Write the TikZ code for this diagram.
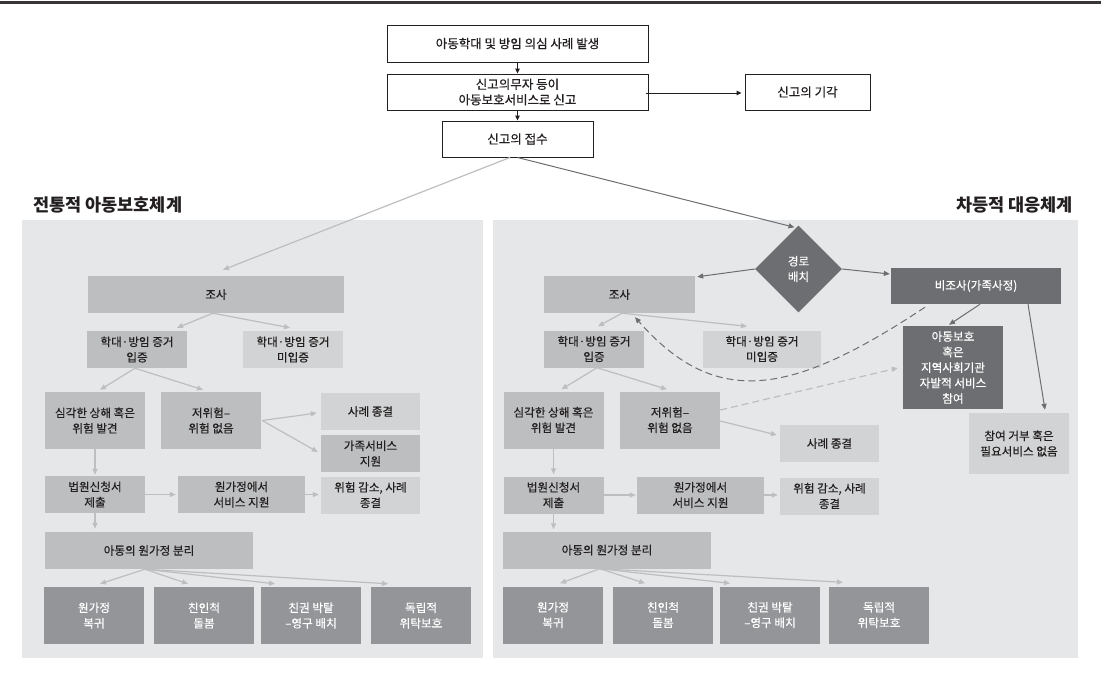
\documentclass[tikz,border=0pt]{standalone}
\usepackage{fontspec}
\setmainfont{Noto Sans CJK KR}[FakeBold=0.4]
\newfontfamily\titlefont{Noto Sans CJK KR}
\usetikzlibrary{arrows.meta,shapes.geometric,calc}
\definecolor{panelbg}{HTML}{E6E7E8}
\definecolor{boxlight}{HTML}{D1D3D4}
\definecolor{boxmid}{HTML}{BCBEC0}
\definecolor{boxdark}{HTML}{939598}
\definecolor{boxdarker}{HTML}{6D6E71}
\definecolor{ink}{HTML}{231F20}
\definecolor{linelight}{HTML}{BCBEC0}
\begin{document}
\begin{tikzpicture}[x=1pt,y=-1pt,
  base/.style={align=center, inner sep=1pt, text=ink, font=\fontsize{11.6}{15.5}\selectfont},
  topbox/.style={base, draw=ink, line width=1pt, fill=white, font=\fontsize{12.5}{15.5}\selectfont},
  mbox/.style={base, fill=boxmid},
  lbox/.style={base, fill=boxlight},
  dbox/.style={base, fill=boxdark, text=white},
  ddbox/.style={base, fill=boxdarker, text=white},
  sz/.style 2 args={minimum width=#1pt, minimum height=#2pt},
  la/.style={draw=linelight, line width=1.2pt, -{Triangle[length=6pt,width=5pt]}},
  lda/.style={la, dash pattern=on 7pt off 4pt},
  da/.style={draw=boxdarker, line width=1pt, -{Triangle[length=6pt,width=5pt]}},
  dda/.style={da, dash pattern=on 7pt off 4pt},
  ka/.style={draw=ink, line width=1pt, -{Triangle[length=5pt,width=4.5pt]}},
  ttl/.style={text=ink, inner sep=0pt, font=\titlefont\fontsize{17.5}{19}\selectfont\bfseries},
]
\useasboundingbox (0,0) rectangle (1101,681);
\fill[white] (0,0) rectangle (1101,681);
\fill[ink!90] (0,0.8) rectangle (1101,4.2);

% panels
\fill[panelbg] (22,220) rectangle (483,658);
\fill[panelbg] (493,220) rectangle (1078,658);
\node[ttl, anchor=west] (ltitle) at (33,205) {전통적 아동보호체계};
\node[ttl, anchor=east] (rtitle) at (1073,205) {차등적 대응체계};

% top
\node[topbox, sz={261}{37}] (T1) at (517.5,43.5) {아동학대 및 방임 의심 사례 발생};
\node[topbox, sz={261}{36}] (T2) at (517.5,92) {신고의무자 등이\\아동보호서비스로 신고};
\node[topbox, sz={151}{36}] (T3) at (517.5,139) {신고의 접수};
\node[topbox, sz={125}{36}] (Trej) at (807.5,92) {신고의 기각};

% left panel
\node[mbox, sz={256}{37}] (Ljosa) at (216,294.5) {조사};
\node[mbox, sz={100}{37}] (Lprov) at (137,349.5) {학대·방임 증거\\입증};
\node[lbox, sz={100}{37}] (Lunprov) at (293,349.5) {학대·방임 증거\\미입증};
\node[mbox, sz={100}{57}] (Lsev) at (95,420.5) {심각한 상해 혹은\\위험 발견};
\node[mbox, sz={100}{57}] (Llow) at (211,420.5) {저위험–\\위험 없음};
\node[lbox, sz={99}{37}] (Lclose) at (370.5,411.5) {사례 종결};
\node[mbox, sz={99}{37}] (Lfam) at (370.5,453.5) {가족서비스\\지원};
\node[mbox, sz={100}{37}] (Lcourt) at (95,494.5) {법원신청서\\제출};
\node[mbox, sz={127}{37}] (Lhome) at (241.5,494.5) {원가정에서\\서비스 지원};
\node[lbox, sz={99}{37}] (Lred) at (370.5,495) {위험 감소, 사례\\종결};
\node[mbox, sz={208}{37}] (Lsep) at (149,550.5) {아동의 원가정 분리};
\node[dbox, sz={100}{57}] (LB1) at (94,615.5) {원가정\\복귀};
\node[dbox, sz={100}{57}] (LB2) at (204,615.5) {친인척\\돌봄};
\node[dbox, sz={100}{57}] (LB3) at (311,615.5) {친권 박탈\\–영구 배치};
\node[dbox, sz={100}{57}] (LB4) at (421,615.5) {독립적\\위탁보호};

% right panel
\node[diamond, shape aspect=1, fill=boxdarker, text=white, inner sep=0pt, minimum size=87pt, align=center, font=\fontsize{11.6}{15.5}\selectfont] (dia) at (798.5,269) {경로\\배치};
\node[mbox, sz={151}{37}] (Rjosa) at (619.5,294.5) {조사};
\node[mbox, sz={100}{37}] (Rprov) at (594,349) {학대·방임 증거\\입증};
\node[lbox, sz={118}{37}] (Runprov) at (762,349) {학대·방임 증거\\미입증};
\node[mbox, sz={100}{57}] (Rsev) at (553.5,420) {심각한 상해 혹은\\위험 발견};
\node[mbox, sz={100}{57}] (Rlow) at (670,420) {저위험–\\위험 없음};
\node[lbox, sz={99}{37}] (Rclose) at (829.5,443.5) {사례 종결};
\node[mbox, sz={100}{37}] (Rcourt) at (553.5,495) {법원신청서\\제출};
\node[mbox, sz={127}{37}] (Rhome) at (700.5,495) {원가정에서\\서비스 지원};
\node[lbox, sz={99}{37}] (Rred) at (829.5,496) {위험 감소, 사례\\종결};
\node[mbox, sz={208}{37}] (Rsep) at (607,550) {아동의 원가정 분리};
\node[dbox, sz={100}{57}] (RB1) at (553,615) {원가정\\복귀};
\node[dbox, sz={100}{57}] (RB2) at (663,615) {친인척\\돌봄};
\node[dbox, sz={100}{57}] (RB3) at (770,615) {친권 박탈\\–영구 배치};
\node[dbox, sz={100}{57}] (RB4) at (879,615) {독립적\\위탁보호};
\node[ddbox, sz={170}{36}] (Rnoinv) at (976,286) {비조사(가족사정)};
\node[ddbox, sz={100}{83}] (Rvol) at (953,367.5) {아동보호\\혹은\\지역사회기관\\자발적 서비스\\참여};
\node[lbox, sz={100}{61}] (Rref) at (1019,443.5) {참여 거부 혹은\\필요서비스 없음};

% top connectors
\draw[ka] (T1.south) -- (T2.north);
\draw[ka] (T2.south) -- (T3.north);
\draw[ka] ($(T2.east)+(-3,1)$) -- ($(Trej.west)+(-3,1)$);
\draw[la] ($(T3.south)+(-7.5,0)$) -- ($(Ljosa.north)+(7,-6)$);
\draw[da] (T3.south) -- ($(dia.north)+(-4,2)$);

% left connectors
\draw[la] ($(Ljosa.south)+(-3,0)$) -- ($(Lprov.north)+(40,-3)$);
\draw[la] ($(Ljosa.south)+(-3,0)$) -- ($(Lunprov.north)+(-3,-3)$);
\draw[la] ($(Lprov.south)+(-2,0)$) -- ($(Lsev.north)+(5,-2)$);
\draw[la] ($(Lprov.south)+(-2,0)$) -- ($(Llow.north)+(-8,-2)$);
\draw[la] ($(Llow.east)+(1,0)$) -- ($(Lclose.west)+(-4,1.5)$);
\draw[la] ($(Llow.east)+(1,0)$) -- ($(Lfam.west)+(-3,-1.5)$);
\draw[la] (Lsev.south) -- ($(Lcourt.north)+(0,-1)$);
\draw[la] (Lcourt.east) -- ($(Lhome.west)+(-2,0)$);
\draw[la] (Lhome.east) -- ($(Lhome.east -| Lred.west)+(-2,0)$);
\draw[la] (Lcourt.south) -- ($(Lcourt.south |- Lsep.north)+(0,-3)$);
\draw[la] ($(Lsep.south)+(-4,0)$) -- ($(LB1.north)+(6,-3)$);
\draw[la] ($(Lsep.south)+(-4,0)$) -- ($(LB2.north)+(-16,-3)$);
\draw[la] ($(Lsep.south)+(-4,0)$) -- ($(LB3.north)+(-36,-3)$);
\draw[la] ($(Lsep.south)+(-4,0)$) -- ($(LB4.north)+(-33,-3)$);

% right connectors
\draw[da] (dia.west) -- ($(Rjosa.north east)+(2,1)$);
\draw[da] (dia.east) -- ($(Rnoinv.west)+(-1,-12)$);
\draw[la] ($(Rjosa.south)+(2.5,0)$) -- ($(Rprov.north)+(4,-4)$);
\draw[la] ($(Rjosa.south)+(2.5,0)$) -- ($(Runprov.north)+(-15,-4)$);
\draw[la] ($(Rprov.south)+(3,0)$) -- ($(Rsev.north)+(8,-2)$);
\draw[la] ($(Rprov.south)+(3,0)$) -- ($(Rlow.north)+(-3,-2)$);
\draw[la] ($(Rlow.east)+(0,1)$) -- ($(Rclose.west)+(-3,-8.5)$);
\draw[la] (Rsev.south) -- ($(Rsev.south |- Rcourt.north)+(0,-2)$);
\draw[la] (Rcourt.east) -- ($(Rhome.west)+(-1,0)$);
\draw[la] (Rhome.east) -- ($(Rhome.east -| Rred.west)+(-2,0)$);
\draw[la] (Rcourt.south) -- ($(Rcourt.south |- Rsep.north)+(0,-2)$);
\draw[la] ($(Rsep.south)+(-7,0)$) -- ($(RB1.north)+(7,-3)$);
\draw[la] ($(Rsep.south)+(-7,0)$) -- ($(RB2.north)+(-18,-3)$);
\draw[la] ($(Rsep.south)+(-7,0)$) -- ($(RB3.north)+(-40,-3)$);
\draw[la] ($(Rsep.south)+(-7,0)$) -- ($(RB4.north)+(-36,-4)$);
\draw[da] ($(Rnoinv.south)+(4,0)$) -- ($(Rvol.north)+(-4,-1)$);
\draw[da] ($(Rnoinv.south)+(52,0)$) -- ($(Rref.north)+(26,-3)$);
\draw[dda] ($(Rnoinv.south)+(-51,3)$) .. controls (791,396) and (716,409) .. ($(Rjosa.south)+(15.5,4)$);
\draw[lda] ($(Rlow.east)+(0,-10)$) -- ($(Rvol.west)+(-5,0.5)$);
\end{tikzpicture}
\end{document}
